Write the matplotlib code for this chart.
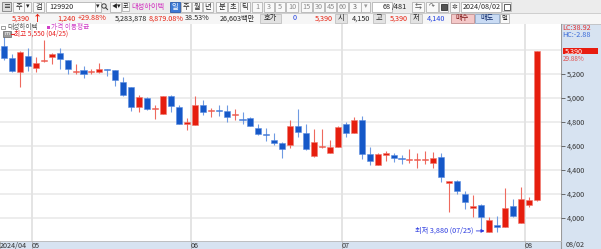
import matplotlib
matplotlib.use("Agg")
import matplotlib.pyplot as plt
from matplotlib.patches import Rectangle, Circle
from matplotlib.transforms import blended_transform_factory

plt.rcParams['font.family'] = ['Noto Sans CJK KR', 'DejaVu Sans']

# daily candles 2024/04/25 .. 2024/08/02
opens = [5433, 5336, 5214, 5353, 5252, 5306, 5342, 5375, 5314, 5217,
         5236, 5214, 5217, 5244, 5236, 5136, 5094, 4925, 4997, 4906,
         4867, 5014, 4925, 4781, 4778, 4939, 4892, 4897, 4894, 4856,
         4819, 4836, 4747, 4697, 4650, 4625, 4608, 4764, 4711, 4517,
         4592, 4544, 4589, 4781, 4706, 4817, 4536, 4444, 4528, 4522,
         4503, 4483, 4481, 4483, 4456, 4506, 4292, 4311, 4197, 4081,
         4106, 3880, 3944, 3928, 4100, 3956, 4105, 4150]
highs = [5550, 5364, 5390, 5414, 5342, 5483, 5375, 5414, 5314, 5286,
         5264, 5244, 5292, 5244, 5236, 5175, 5094, 5025, 5008, 4942,
         5014, 5025, 4942, 4836, 5017, 4983, 4919, 4942, 4942, 4908,
         4881, 4839, 4783, 4753, 4711, 4631, 4817, 4908, 4786, 4742,
         4742, 4650, 4767, 4797, 4844, 4850, 4592, 4544, 4556, 4544,
         4522, 4575, 4539, 4556, 4550, 4539, 4308, 4319, 4225, 4189,
         4114, 4006, 4017, 4247, 4158, 4261, 4172, 5390]
lows = [5317, 5214, 5094, 5225, 5219, 5300, 5286, 5242, 5197, 5203,
        5169, 5197, 5208, 5186, 5103, 5014, 4892, 4886, 4900, 4822,
        4867, 4886, 4781, 4731, 4775, 4858, 4844, 4850, 4797, 4817,
        4781, 4764, 4692, 4642, 4608, 4503, 4586, 4678, 4567, 4506,
        4586, 4539, 4589, 4672, 4706, 4494, 4442, 4444, 4478, 4464,
        4450, 4456, 4417, 4447, 4417, 4297, 4053, 4197, 4078, 4006,
        3890, 3880, 3885, 3928, 4006, 3956, 4094, 4140]
closes = [5336, 5225, 5381, 5267, 5292, 5314, 5364, 5322, 5242, 5228,
          5197, 5228, 5244, 5236, 5147, 5025, 4925, 5008, 4906, 4917,
          5014, 4931, 4781, 4797, 4938, 4883, 4900, 4892, 4839, 4864,
          4814, 4767, 4697, 4692, 4625, 4575, 4767, 4714, 4575, 4631,
          4603, 4589, 4756, 4711, 4817, 4536, 4472, 4533, 4539, 4503,
          4494, 4492, 4489, 4489, 4500, 4344, 4308, 4225, 4133, 4103,
          4011, 3983, 3928, 4083, 4017, 4156, 4150, 5390]

grid_prices = [4000, 4200, 4400, 4600, 4800, 5000, 5200, 5400]
tick_prices = [4000, 4200, 4400, 4600, 4800, 5000, 5200]
month_pos = [-0.5, 3.5, 23.5, 42.5, 65.5]
month_labels = ["2024/04", "05", "06", "07", "08"]
low_idx = 61

RED = "#e61e0e"
BLUE = "#1558c8"
RED_W = "#ee6a5e"
BLUE_W = "#6f9be2"
PANEL = "#d7e3f1"
FS = 5.2

W, H = 601, 249
fig = plt.figure(figsize=(W / 100, H / 100), dpi=100)

# pixel-space layer for the window chrome
ui = fig.add_axes([0, 0, 1, 1], zorder=0)
ui.set_xlim(0, W)
ui.set_ylim(H, 0)
ui.axis("off")


def box(x0, x1, y0, y1, fc="#f9f9f9", ec="#b4b4b4", lw=0.6):
    ui.add_patch(Rectangle((x0, y0), x1 - x0, y1 - y0, fc=fc, ec=ec, lw=lw))


def txt(x, y, s, color="#222222", ha="left", size=FS, **kw):
    ui.text(x, y, s, color=color, ha=ha, va="center", fontsize=size, **kw)


# toolbar row 1
box(0, W, 0, 12.5, fc="#ececec", ec="none")
box(2, 11, 2, 11, fc="#dcdcdc", ec="#808080")
txt(6.5, 6.5, "≡", ha="center", size=5)
box(13, 24, 1.5, 11.5)
txt(18.5, 6.5, "주", ha="center")
box(24, 31, 1.5, 11.5)
txt(27.5, 6.5, "▾", ha="center", size=5)
box(33, 44, 1.5, 11.5)
txt(38.5, 6.5, "검", ha="center")
box(46, 101, 1.5, 11.5, fc="white")
txt(49, 6.5, "129920")
box(95, 101, 1.5, 11.5)
txt(98, 6.5, "▾", ha="center", size=5)
ui.add_patch(Circle((104, 6), 2.2, fc="none", ec="#444", lw=0.7))
ui.plot([105.5, 107.5], [7.5, 9.5], color="#444", lw=0.8)
box(110, 121, 1.5, 11.5)
txt(114, 6.5, "◀", ha="center", size=4)
txt(119, 6.5, "▾", ha="center", size=5)
box(122, 129, 2, 11)
txt(125.5, 6.5, "코", ha="center", size=4.5)
txt(131, 6.5, "대성하이텍", color="#d230c0")
frames = [("일", 170, 180), ("주", 181, 191), ("월", 192, 202), ("년", 203, 213),
          ("분", 216, 227), ("초", 228, 238), ("틱", 240, 250), ("1", 252, 262),
          ("3", 264, 274), ("5", 275, 285), ("10", 286, 298), ("15", 301, 312),
          ("30", 313, 324), ("45", 325, 336), ("60", 337, 348)]
for k, (s, a, b) in enumerate(frames):
    if k == 0:
        box(a, b, 1.5, 11.5, fc="#3c7ad6", ec="#2a5aa8")
        txt((a + b) / 2, 6.5, s, color="white", ha="center")
    else:
        box(a, b, 1.5, 11.5)
        txt((a + b) / 2, 6.5, s, color="#222" if k < 7 else "#8a8a8a", ha="center")
box(349, 361, 1.5, 11.5)
txt(355, 6.5, "3", ha="center", color="#666")
box(361, 370, 1.5, 11.5)
txt(365.5, 6.5, "▾", ha="center", size=5, color="#999")
box(372, 392, 1.5, 11.5, fc="white")
txt(391, 6.5, "68", ha="right")
txt(392, 6.5, "/481")
for a, b in [(412, 424), (426, 438), (439, 448), (450, 459)]:
    box(a, b, 1.5, 11.5)
txt(418, 6.5, "⇆", ha="center", size=5, color="#555")
txt(432, 6.5, "↷", ha="center", size=5, color="#555")
box(440.5, 446.5, 3.5, 9.5, fc="#555", ec="#333")
txt(454.5, 6.5, "✲", ha="center", size=5, color="#333")
box(461, 501, 1.5, 11.5, fc="white")
txt(463, 6.5, "2024/08/02")
box(502, 511, 2, 11)
box(503.5, 509.5, 3.5, 9.5, fc="white", ec="#444")

# toolbar row 2
box(0, W, 12.5, 24, fc="#f6f6f6", ec="none")
ui.plot([0, W], [12.5, 12.5], color="#c8c8c8", lw=0.6)
txt(12, 18.2, "5,390", color=RED)
txt(33, 18.2, "↑", color=RED, weight="bold", size=6.5)
txt(57, 18.2, "1,240", color=RED)
txt(78, 18.2, "+29.88%", color=RED)
txt(115, 18.2, "5,283,878")
txt(149, 18.2, "8,879.08%", color=RED)
txt(185, 18.2, "38.53%")
txt(220, 18.2, "26,603백만")
box(260, 281, 13.5, 23, fc="#e2e2e2", ec="#c0c0c0")
txt(270.5, 18.2, "호가", ha="center")
txt(297, 18.2, "0", color="#2040e0", ha="right")
txt(333, 18.2, "5,390", color=RED, ha="right")
for s, a, b in [("시", 335, 347), ("고", 373, 385), ("저", 410, 422)]:
    box(a, b, 13.5, 23, fc="#e2e2e2", ec="#c0c0c0")
    txt((a + b) / 2, 18.2, s, ha="center")
txt(370, 18.2, "4,150", ha="right")
txt(408, 18.2, "5,390", color=RED, ha="right")
txt(445, 18.2, "4,140", color="#2040e0", ha="right")
box(451, 474, 13.5, 23, fc="#f4c8c8", ec="#c09090")
txt(462.5, 18.2, "매수", ha="center", color="#7a1010")
box(475, 499, 13.5, 23, fc="#c9dbf4", ec="#90a8c8")
txt(487, 18.2, "매도", ha="center", color="#102a6a")
box(500, 509, 14, 22.5)
txt(504.5, 18.2, "멀", ha="center", size=4.5)
ui.plot([0, W], [24, 24], color="#c0c0c0", lw=0.6)

# right price panel and bottom date band
box(561, W, 24, H, fc=PANEL, ec="none")
box(0, 561, 241, H, fc=PANEL, ec="none")
ui.plot([561, 561], [24, H], color="#9a9a9a", lw=0.8)
ui.plot([0, 561], [241, 241], color="#b8b8b8", lw=0.6)
txt(566, 245.2, "08/02", color="#333")

# main candle chart
ax = fig.add_axes([0, 8 / H, 561 / W, 217 / H], zorder=1)
ax.set_xlim(-0.503, 70.06)
ax.set_ylim(3808, 5617)
ax.patch.set_facecolor("white")
for sp in ax.spines.values():
    sp.set_visible(False)

for p in grid_prices:
    ax.axhline(p, color="#e8e8e8", lw=1.1, zorder=0)
for m in month_pos[1:]:
    ax.axvline(m, color="#e2e2e2", lw=1.3, zorder=0)

for i, (o, h, l, c) in enumerate(zip(opens, highs, lows, closes)):
    up = c >= o
    ax.vlines(i, l, h, color=RED_W if up else BLUE_W, lw=0.8, zorder=2)
    ax.bar(i, max(abs(c - o), 10), bottom=min(o, c), width=0.76,
           color=RED if up else BLUE, edgecolor="#f07a70" if up else "#5b8ce0",
           linewidth=0.4, zorder=3)

ax.yaxis.tick_right()
ax.set_yticks(tick_prices, [f"{p:,}" for p in tick_prices])
ax.tick_params(axis="y", length=3, width=0.6, color="#555", pad=1,
               labelsize=FS, labelcolor="#333")
ax.set_xticks(month_pos, month_labels)
ax.tick_params(axis="x", length=8, width=0.6, color="#b0b0b0", pad=-7.6,
               labelsize=FS, labelcolor="#333")
for t in ax.get_xticklabels():
    t.set_ha("left")

# last price tag on the panel
tr = blended_transform_factory(fig.transFigure, ax.transData)
last = closes[-1]
ax.add_patch(Rectangle((563 / W, last - 24), 35 / W, 48, transform=tr,
                       fc="#e81c10", ec="none", clip_on=False, zorder=5))
ax.text(565 / W, last, f"{last:,}", transform=tr, color="white", fontsize=FS,
        va="center", clip_on=False, zorder=6)
ax.text(563 / W, last - 62, "29.88%", transform=tr, color="#e05050",
        fontsize=4.6, va="center", clip_on=False, zorder=4)

# high / low notes
ax.annotate("최저 3,880 (07/25)", xy=(low_idx - 0.55, lows[low_idx] + 12),
            xytext=(-8, 0), textcoords="offset points", ha="right", va="center",
            color="#2a3ae0", fontsize=FS,
            arrowprops=dict(arrowstyle="-|>", color="#2a3ae0", lw=0.6,
                            mutation_scale=5, shrinkA=0, shrinkB=0))

ov = fig.add_axes([0, 0, 1, 1], zorder=3)
ov.set_xlim(0, W)
ov.set_ylim(H, 0)
ov.axis("off")
ov.add_patch(Rectangle((1, 25.5), 4, 3.5, fc="white", ec="#777", lw=0.5))
ov.text(7, 27.2, "대성하이텍", color="#555", fontsize=4.8, va="center")
ov.add_patch(Rectangle((47, 25.8), 3, 3, fc="#d040c8", ec="none"))
ov.text(51, 27.2, "가격 이동평균", color="#d040c8", fontsize=4.8, va="center")
ov.add_patch(Rectangle((3, 30.5), 8, 6.5, fc="#9a9a9a", ec="#666", lw=0.5))
ov.text(7, 33.8, "m", color="white", fontsize=4, ha="center", va="center")
ov.plot([11, 14], [34, 34], color="#e82020", lw=0.8)
ov.text(14, 34, "최고 5,550 (04/25)", color="#e82020", fontsize=4.8, va="center")
ov.text(562, 27.5, "LC:38.92", color="#e03030", fontsize=FS, va="center")
ov.text(562, 34.5, "HC:-2.88", color="#3a6ad8", fontsize=FS, va="center")

fig.savefig("out.png", dpi=100)
